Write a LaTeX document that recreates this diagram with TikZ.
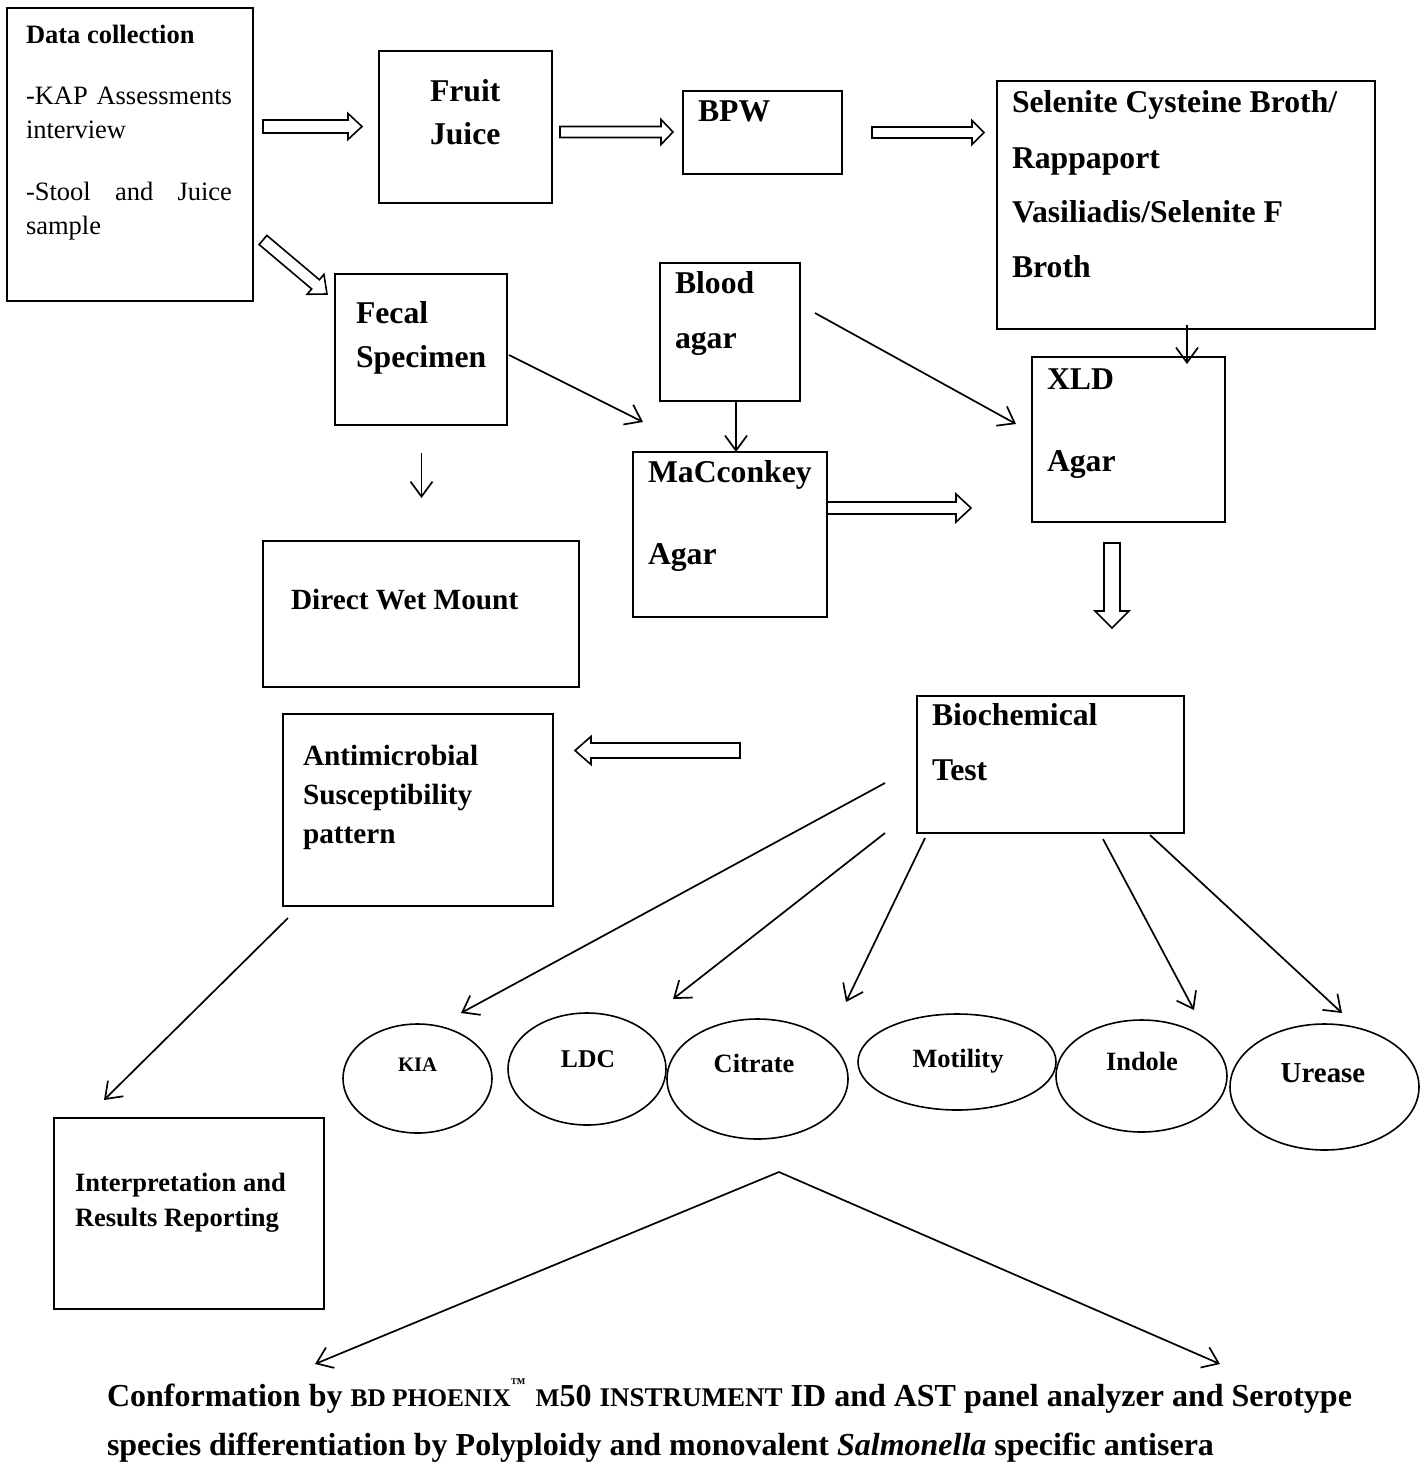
\documentclass[tikz,border=0pt]{standalone}
\usepackage{fontspec}
\setmainfont{Liberation Serif}
\usetikzlibrary{shapes.geometric,arrows.meta,calc}
\newcommand\myfs[1]{\fontsize{#1}{#1}\selectfont}
% hollow (block) arrow: from, to, shaft half-width, head half-width, head length
\newcommand\fatarrow[5]{%
  \coordinate (hb) at ($(#2)!#5pt!(#1)$);
  \draw[fat] ($(#1)!#3pt!90:(#2)$) -- ($(hb)!#3pt!90:(#2)$) -- ($(hb)!#4pt!90:(#2)$) -- (#2)
    -- ($(hb)!#4pt!-90:(#2)$) -- ($(hb)!#3pt!-90:(#2)$) -- ($(#1)!#3pt!-90:(#2)$) -- cycle;}
\tikzset{
  box/.style={draw, line width=1.9pt, inner sep=0pt, outer sep=0pt, anchor=north west},
  tbox/.style={box, line width=1.4pt},
  ell/.style={draw, ellipse, line width=1.6pt, inner sep=0pt},
  conn/.style={line width=1.7pt, -{Straight Barb[length=15pt,width=22pt,line width=1.7pt]}},
  fat/.style={draw, line width=1.6pt, line join=miter, fill=white},
  lbl/.style={anchor=base west, inner sep=0pt, outer sep=0pt},
  big/.style={lbl, font=\bfseries\myfs{31.7}},
  mid/.style={lbl, font=\bfseries\myfs{29.3}},
  sml/.style={lbl, font=\bfseries\myfs{26.5}},
  reg/.style={lbl, font=\myfs{26.5}},
  etxt/.style={anchor=base, inner sep=0pt, outer sep=0pt}
}
\begin{document}
\begin{tikzpicture}[x=1pt,y=-1pt]
\useasboundingbox[fill=white] (0,0) rectangle (1424,1468);

% ---------- boxes ----------
\node[tbox, minimum width=246pt, minimum height=293pt] (data) at (7,8) {};
\node[box, minimum width=173pt, minimum height=152pt] (fruit) at (379,51) {};
\node[box, minimum width=159pt, minimum height=83pt] (bpw) at (683,91) {};
\node[box, minimum width=378pt, minimum height=248pt] (sel) at (997,81) {};
\node[box, minimum width=172pt, minimum height=151pt] (fecal) at (335,274) {};
\node[box, minimum width=140pt, minimum height=138pt] (blood) at (660,263) {};
\node[box, minimum width=194pt, minimum height=165pt] (mac) at (633,452) {};
\node[box, minimum width=193pt, minimum height=165pt] (xld) at (1032,357) {};
\node[tbox, minimum width=316pt, minimum height=146pt] (dwm) at (263,541) {};
\node[box, minimum width=267pt, minimum height=137pt] (bio) at (917,696) {};
\node[tbox, minimum width=270pt, minimum height=192pt] (ams) at (283,714) {};
\node[box, minimum width=270pt, minimum height=191pt] (interp) at (54,1118) {};

% ---------- ellipses ----------
\node[ell, minimum width=149pt, minimum height=109pt] (kia) at (417.5,1078.5) {};
\node[ell, minimum width=158pt, minimum height=112pt] (ldc) at (587,1069) {};
\node[ell, minimum width=181pt, minimum height=120pt] (cit) at (757.5,1079) {};
\node[ell, minimum width=198pt, minimum height=96pt] (mot) at (957,1062) {};
\node[ell, minimum width=171pt, minimum height=112pt] (ind) at (1141.5,1076) {};
\node[ell, minimum width=189pt, minimum height=126pt] (ure) at (1324.5,1087) {};

% ---------- texts ----------
\node[sml] (t-data) at (26,43) {Data collection};
\node[reg] (t-kap) at (26,104) {\makebox[206pt][s]{-KAP Assessments}};
\node[reg] (t-intv) at (26,138) {interview};
\node[reg] (t-stool) at (26,200) {\makebox[206pt][s]{-Stool and Juice}};
\node[reg] (t-sample) at (26,234) {sample};

\node[big] (t-fruit) at (430,101) {Fruit};
\node[big] (t-juice) at (430,144) {Juice};
\node[big] (t-bpw) at (698,121) {BPW};
\node[big] (t-sel1) at (1012,112) {Selenite Cysteine Broth/};
\node[big] (t-sel2) at (1012,168) {Rappaport};
\node[big] (t-sel3) at (1012,222) {Vasiliadis/Selenite F};
\node[big] (t-sel4) at (1012,277) {Broth};
\node[big] (t-fecal) at (356,323) {Fecal};
\node[big] (t-spec) at (356,367) {Specimen};
\node[big] (t-blood) at (675,293) {Blood};
\node[big] (t-agar1) at (675,348) {agar};
\node[big] (t-mac) at (648,482) {MaCconkey};
\node[big] (t-agar2) at (648,564) {Agar};
\node[big] (t-xld) at (1047,389) {XLD};
\node[big] (t-agar3) at (1047,471) {Agar};
\node[mid] (t-dwm) at (291,609) {Direct Wet Mount};
\node[big] (t-bio) at (932,725) {Biochemical};
\node[big] (t-test) at (932,780) {Test};
\node[mid] (t-ams1) at (303,765) {Antimicrobial};
\node[mid] (t-ams2) at (303,804) {Susceptibility};
\node[mid] (t-ams3) at (303,843) {pattern};
\node[sml] (t-int1) at (75,1191) {Interpretation and};
\node[sml] (t-int2) at (75,1226) {Results Reporting};

\node[etxt, font=\bfseries\myfs{20.6}] (t-kia) at (417.5,1071) {KIA};
\node[etxt, font=\bfseries\myfs{25.6}] (t-ldc) at (588,1067) {LDC};
\node[etxt, font=\bfseries\myfs{26.4}] (t-cit) at (754,1072) {Citrate};
\node[etxt, font=\bfseries\myfs{26.4}] (t-mot) at (958,1067) {Motility};
\node[etxt, font=\bfseries\myfs{26.4}] (t-ind) at (1142,1070) {Indole};
\node[etxt, font=\bfseries\myfs{28.9}] (t-ure) at (1323,1082) {Urease};

\node[lbl, font=\bfseries\myfs{32}] (t-conf1) at (107,1406)
  {Conformation by {\myfs{25.4}BD PHOENIX}\raisebox{18pt}{\myfs{15}™}\hspace{2pt} {\myfs{25.4}M}50 {\myfs{27}INSTRUMENT} ID and AST panel analyzer and Serotype};
\node[lbl, font=\bfseries\myfs{32}] (t-conf2) at (107,1455)
  {species differentiation by Polyploidy and monovalent \textit{Salmonella} specific antisera};

% ---------- hollow arrows ----------
\coordinate (h1s) at (263,126.5);  \coordinate (h1e) at (362,126.5);
\coordinate (h2s) at (560,132);    \coordinate (h2e) at (673,132);
\coordinate (h3s) at (872,132.5);  \coordinate (h3e) at (984,132.5);
\coordinate (h4s) at (263,240);    \coordinate (h4e) at (327,294);
\coordinate (h5s) at (827,508);    \coordinate (h5e) at (971,508);
\coordinate (h6s) at (1112,543);   \coordinate (h6e) at (1112,628);
\coordinate (h7s) at (740,750.5);  \coordinate (h7e) at (575,750.5);
\fatarrow{h1s}{h1e}{6.5}{13}{14}
\fatarrow{h2s}{h2e}{5.5}{12.5}{12}
\fatarrow{h3s}{h3e}{5.5}{12}{12}
\fatarrow{h4s}{h4e}{6}{13}{15}
\fatarrow{h5s}{h5e}{6}{14}{15}
\fatarrow{h6s}{h6e}{8}{17}{17}
\fatarrow{h7s}{h7e}{7.5}{14}{16}

% ---------- thin arrows ----------
\coordinate (bx) at (736,0);
\draw[conn] (blood.south -| bx) -- (mac.north -| bx);
\coordinate (a1s) at (1187,325);  \coordinate (a1e) at (1187,364);
\draw[conn] (a1s) -- (a1e);
\coordinate (a2s) at (815,313);   \coordinate (a2e) at (1016,424);
\draw[conn] (a2s) -- (a2e);
\coordinate (a3s) at (509,355);   \coordinate (a3e) at (643,422);
\draw[conn] (a3s) -- (a3e);
\coordinate (a4s) at (421.5,453); \coordinate (a4e) at (421.5,498);
\draw[conn] (a4s) -- (a4e);
\coordinate (a5s) at (288,918);   \coordinate (a5e) at (104,1100);
\draw[conn] (a5s) -- (a5e);
\coordinate (b1s) at (885,783);   \coordinate (b1e) at (461,1013);
\coordinate (b2s) at (885,833);   \coordinate (b2e) at (673,999);
\coordinate (b3s) at (925,838);   \coordinate (b3e) at (846,1002);
\coordinate (b4s) at (1103,839);  \coordinate (b4e) at (1194,1010);
\coordinate (b5s) at (1150,835);  \coordinate (b5e) at (1342,1013);
\draw[conn] (b1s) -- (b1e);
\draw[conn] (b2s) -- (b2e);
\draw[conn] (b3s) -- (b3e);
\draw[conn] (b4s) -- (b4e);
\draw[conn] (b5s) -- (b5e);
\coordinate (apex) at (779,1172);
\coordinate (vl) at (315,1364);
\coordinate (vr) at (1220,1364);
\draw[conn] (apex) -- (vl);
\draw[conn] (apex) -- (vr);
\end{tikzpicture}
\end{document}
